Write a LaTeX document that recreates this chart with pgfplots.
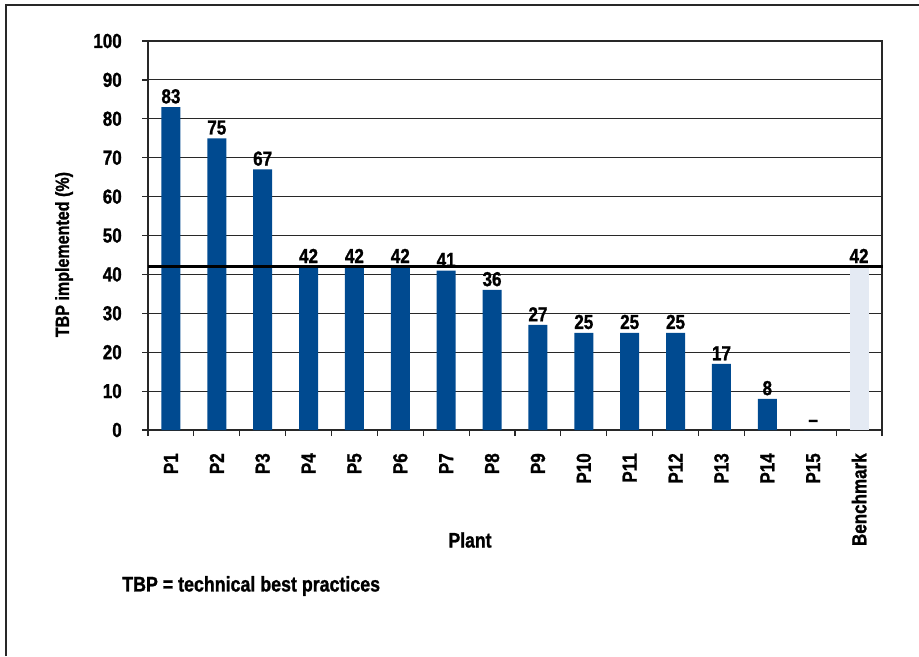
\documentclass[border=0pt]{standalone}
\usepackage{fontspec}
\setmainfont{Liberation Sans}[FakeStretch=0.84, BoldFeatures={FakeBold=1.2}]
\usepackage{pgfplots}
\usepackage{pgfplotstable}
\pgfplotsset{compat=1.18}

\definecolor{barblue}{RGB}{0,74,144}
\definecolor{benchblue}{RGB}{228,234,243}
\definecolor{rulegray}{RGB}{40,40,40}

\newcommand{\chartfont}{\fontsize{15.2}{18}\selectfont\bfseries}

% share of technical best practices implemented, per plant
\pgfplotstableread{
x  y   lab
0  83  83
1  75  75
2  67  67
3  42  42
4  42  42
5  42  42
6  41  41
7  36  36
8  27  27
9  25  25
10 25  25
11 25  25
12 17  17
13 8   8
14 0   --
}\plants

\pgfplotstableread{
x  y   lab
15 42  42
}\bench

\begin{document}
\begin{tikzpicture}
\path[use as bounding box] (0,0) rectangle (689.25pt,-492pt);
% frame
\draw[rulegray, line width=1.5pt] (4.5pt,-492pt) -- (4.5pt,-3.75pt) -- (689.25pt,-3.75pt);

\begin{axis}[
  at={(111pt,-322.5pt)}, anchor=south west,
  scale only axis,
  width=550.5pt, height=291.75pt,
  font=\chartfont,
  /pgf/number format/assume math mode=true,
  xmin=-0.5, xmax=15.5,
  ymin=0, ymax=100,
  ytick={0,10,...,100},
  xtick={0,...,15},
  xticklabels={P1,P2,P3,P4,P5,P6,P7,P8,P9,P10,P11,P12,P13,P14,P15,Benchmark},
  minor xtick={-0.5,0.5,...,15.5},
  tick align=outside,
  xtick pos=bottom, ytick pos=left,
  major tick length=4.5pt,
  minor tick length=4.5pt,
  major x tick style={draw=none},
  every tick/.style={rulegray, line width=0.9pt},
  axis line style={rulegray, line width=1.1pt},
  ymajorgrids,
  major grid style={rulegray, line width=0.8pt},
  xticklabel style={rotate=90, anchor=east, inner sep=0pt},
  xticklabel shift=12.75pt,
  yticklabel style={anchor=east, inner sep=0pt},
  yticklabel shift=15pt,
  ylabel={TBP implemented (\%)},
  every axis y label/.style={at={(axis description cs:-0.1144,0.451)}, rotate=90, anchor=center,
    font=\fontsize{14.35}{17}\selectfont\bfseries},
  xlabel={Plant},
  every axis x label/.style={at={(axis description cs:0.4387,-0.2828)}, anchor=center,
    font=\fontsize{15.7}{18}\selectfont\bfseries},
  ybar, bar width=14.25pt, bar shift=0pt,
  nodes near coords,
  point meta=explicit symbolic,
  every node near coord/.append style={inner sep=0pt, yshift=2.5pt, font=\chartfont},
  clip=false,
]
\addplot[fill=barblue, draw=none] table[x=x, y=y, meta=lab] {\plants};
\addplot[fill=benchblue, draw=none] table[x=x, y=y, meta=lab] {\bench};
\draw[black, line width=1.8pt] (axis cs:-0.5,42) -- (axis cs:15.52,42);
\end{axis}

\node[anchor=base west, inner sep=0pt, font=\fontsize{15.9}{19}\selectfont\bfseries]
  at (91.5pt,-443.6pt) {TBP = technical best practices};
\end{tikzpicture}
\end{document}
